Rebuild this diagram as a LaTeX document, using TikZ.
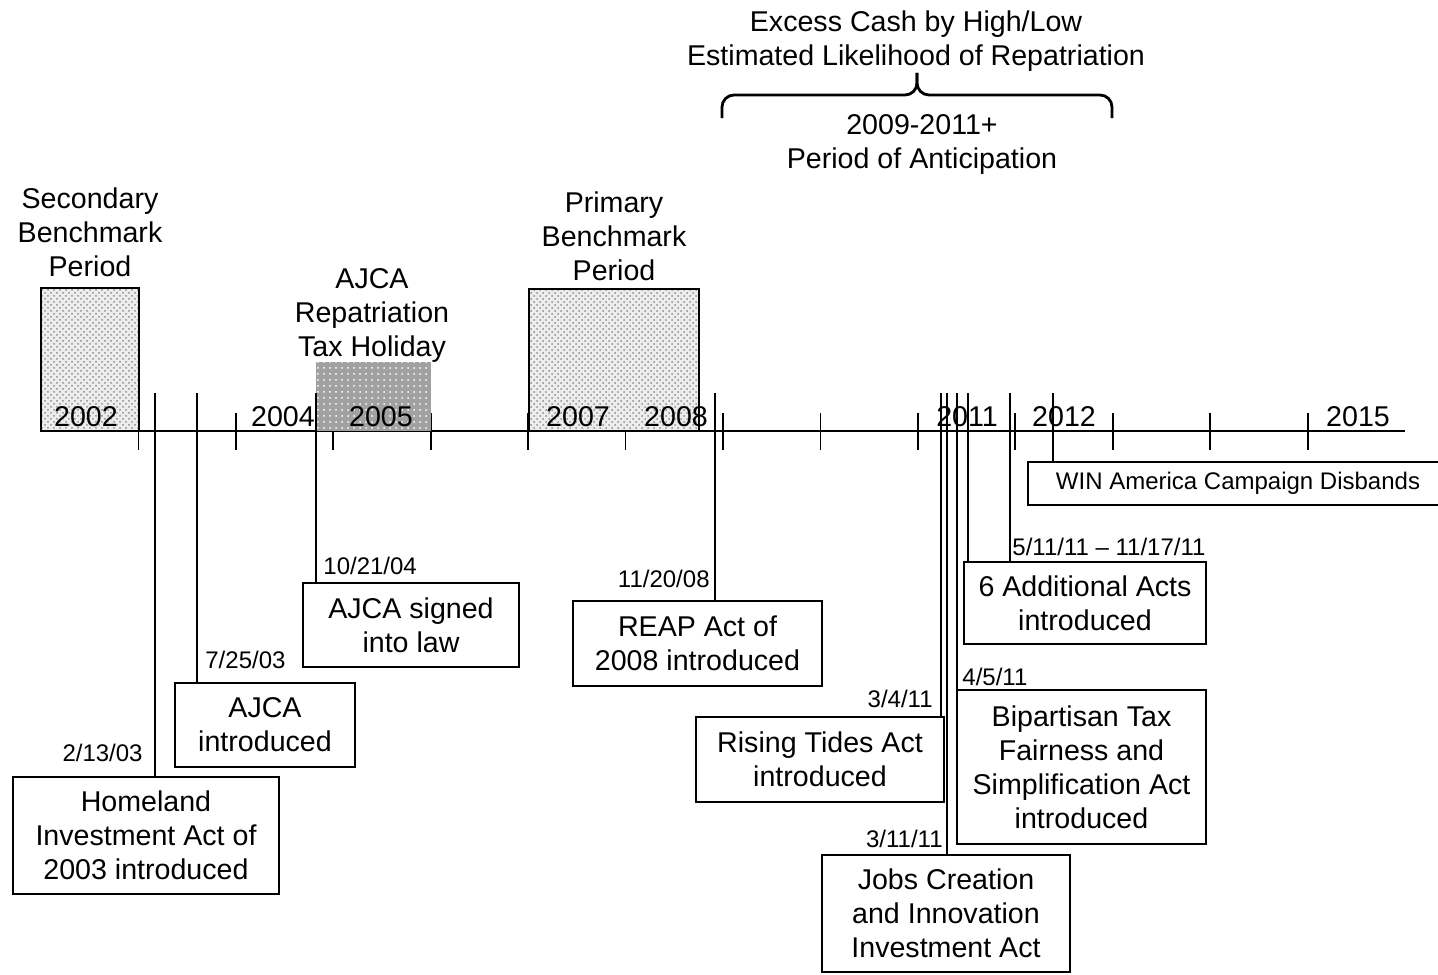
\documentclass[tikz,border=0pt]{standalone}
\usepackage{fontspec}
\setmainfont{Liberation Sans}
\usetikzlibrary{patterns}

\begin{document}
\begin{tikzpicture}[x=0.5pt, y=-0.5pt, font=\fontsize{14.3}{17}\selectfont,
    event/.style={draw, line width=0.9pt, align=center, inner sep=0pt},
    date/.style={font=\fontsize{12}{14}\selectfont, inner sep=0pt},
    year/.style={anchor=base, inner sep=0pt},
    stem/.style={line width=0.8pt},
    period/.style={align=center, inner sep=0pt},
    bench/.style={line width=0.9pt, preaction={fill=black!7}, pattern=crosshatch dots, pattern color=black!45}]
    \useasboundingbox (0,0) rectangle (1438,974);

    % time axis
    \draw[line width=0.9pt] (41,431) -- (1405,431);
    \foreach \k in {1,...,13}
        \draw[line width=0.9pt] ({41+97.43*\k},413) -- ++(0,37);

    % shaded periods
    \draw[bench] (41,288) rectangle (139,431);
    \draw[bench] (529,289) rectangle (699,431);
    \fill[black!37] (316,362) rectangle (431,431);
    \fill[pattern=dots, pattern color=white] (316,362) rectangle (431,431);

    \foreach \x/\yr in {86/2002, 283/2004, 381/2005, 578/2007, 676/2008, 967/2011, 1064/2012, 1358/2015}
        \node[year] (y\yr) at (\x,426) {\yr};

    \node[period] (secondary) at (90,232) {Secondary\\Benchmark\\Period};
    \node[period] (holiday) at (372,315) {AJCA\\Repatriation\\Tax Holiday};
    \node[period] (primary) at (614,236) {Primary\\Benchmark\\Period};
    \node[period] (excess) at (916,41) {Excess Cash by High/Low\\Estimated Likelihood of Repatriation};
    \node[period] (anticip) at (922,144) {2009-2011+\\Period of Anticipation};

    % brace
    \coordinate (bl) at (722,118);
    \coordinate (br) at (1112,118);
    \coordinate (bm) at (917,95);
    \coordinate (tip) at (917,73);
    \draw[line width=1.4pt, rounded corners=6pt] (bl) |- (bm) -- (tip);
    \draw[line width=1.4pt, rounded corners=6pt] (br) |- (bm) -- (tip);

    % events
    \node[event, minimum width=133pt, minimum height=58.5pt] (homeland) at (146,835.5) {Homeland\\Investment Act of\\2003 introduced};
    \node[event, minimum width=90pt, minimum height=42pt] (ajcaintro) at (265,725) {AJCA\\introduced};
    \node[event, minimum width=108pt, minimum height=42pt] (ajcasigned) at (411,625) {AJCA signed\\into law};
    \node[event, minimum width=124.5pt, minimum height=42.5pt] (reap) at (697.5,643.5) {REAP Act of\\2008 introduced};
    \node[event, minimum width=124pt, minimum height=42.5pt] (tides) at (820,759.5) {Rising Tides Act\\introduced};
    \node[event, minimum width=124pt, minimum height=58.5pt] (jobs) at (946,913.5) {Jobs Creation\\and Innovation\\Investment Act};
    \node[event, minimum width=124.5pt, minimum height=77pt] (bipart) at (1081.5,767) {Bipartisan Tax\\Fairness and\\Simplification Act\\introduced};
    \node[event, minimum width=121pt, minimum height=41pt] (sixacts) at (1085,603) {6 Additional Acts\\introduced};
    \node[event, minimum width=210pt, minimum height=21.5pt, font=\fontsize{12}{14}\selectfont] (win) at (1238,483.5) {WIN America Campaign Disbands};

    \coordinate (e1) at (155,393);
    \coordinate (e2) at (197,393);
    \coordinate (e3) at (316,393);
    \coordinate (e4) at (715,393);
    \coordinate (e5) at (941,393);
    \coordinate (e6) at (947,393);
    \coordinate (e7) at (957,393);
    \coordinate (e8) at (968,393);
    \coordinate (e9) at (1010,393);
    \coordinate (e10) at (1053,393);
    \draw[stem] (e1) -- (e1 |- homeland.north);
    \draw[stem] (e2) -- (e2 |- ajcaintro.north);
    \draw[stem] (e3) -- (e3 |- ajcasigned.north);
    \draw[stem] (e4) -- (e4 |- reap.north);
    \draw[stem] (e5) -- (e5 |- tides.north);
    \draw[stem] (e6) -- (e6 |- jobs.north);
    \draw[stem] (e7) -- (e7 |- bipart.north);
    \draw[stem] (e8) -- (e8 |- sixacts.north);
    \draw[stem] (e9) -- (e9 |- sixacts.north);
    \draw[stem] (e10) -- (e10 |- win.north);

    \node[date, anchor=base east] (d1) at (143,761) {2/13/03};
    \node[date, anchor=base west] (d2) at (205,668) {7/25/03};
    \node[date, anchor=base west] (d3) at (323,574) {10/21/04};
    \node[date, anchor=base east] (d4) at (710,587) {11/20/08};
    \node[date, anchor=base east] (d5) at (933,707) {3/4/11};
    \node[date, anchor=base east] (d6) at (943,847) {3/11/11};
    \node[date, anchor=base west] (d7) at (962,685) {4/5/11};
    \node[date, anchor=base west] (d8) at (1012,555) {5/11/11 -- 11/17/11};
\end{tikzpicture}
\end{document}
